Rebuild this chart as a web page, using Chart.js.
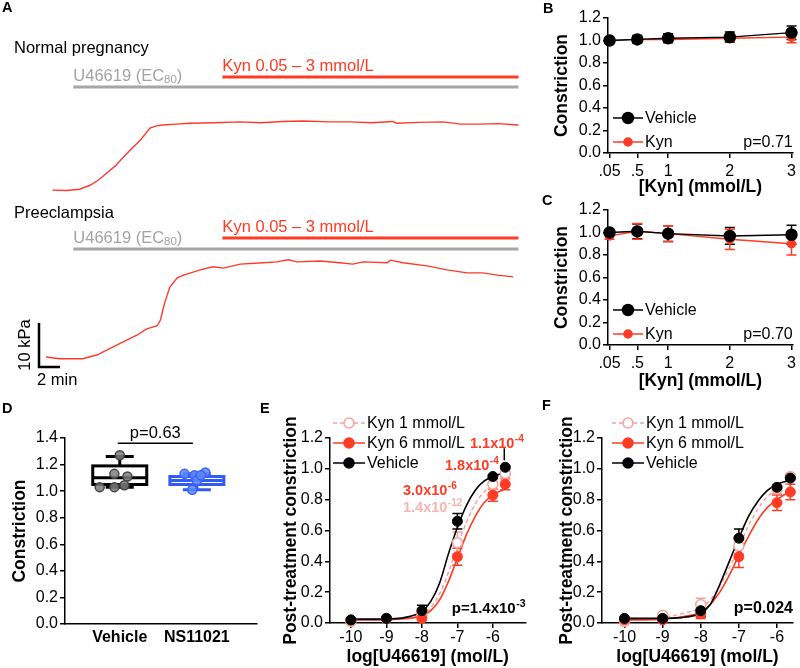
<!DOCTYPE html>
<html>
<head>
<meta charset="utf-8">
<script src="https://cdn.jsdelivr.net/npm/chart.js@4.4.1/dist/chart.umd.min.js"></script>
<style>
  body { margin: 0; background: #fff; }
  #wrap { position: relative; width: 800px; height: 668px; overflow: hidden; font-family: "Liberation Sans", Arial, sans-serif; }
  canvas { position: absolute; }
  .lbl { position: absolute; font-weight: bold; font-size: 14.5px; line-height: 14px; }
</style>
</head>
<body>
<div id="wrap">
  <canvas id="chartA" width="530" height="400" style="left:0;top:0"></canvas>
  <canvas id="chartB" width="260" height="200" style="left:540px;top:0"></canvas>
  <canvas id="chartC" width="260" height="200" style="left:540px;top:192px"></canvas>
  <canvas id="chartD" width="270" height="248" style="left:0;top:420px"></canvas>
  <canvas id="chartE" width="262" height="258" style="left:270px;top:410px"></canvas>
  <canvas id="chartF" width="268" height="258" style="left:532px;top:410px"></canvas>
  <div class="lbl" style="left:2px;top:0">A</div>
  <div class="lbl" style="left:543px;top:1px">B</div>
  <div class="lbl" style="left:542px;top:193px">C</div>
  <div class="lbl" style="left:2px;top:401px">D</div>
  <div class="lbl" style="left:260px;top:401px">E</div>
  <div class="lbl" style="left:542px;top:398px">F</div>
</div>
<script>
// ---- A: myograph traces (time in min, force in kPa above start) ----
const normalTime  = [0.6, 2, 3.2, 4.2, 5, 5.8, 6.6, 7.3, 8.1, 9, 9.9, 10.5, 11.1, 12.4, 13.7, 16, 18.5, 20.5, 22.5, 24.5, 27, 29, 31, 33, 33.4, 35.4, 37.8, 39.5, 41.3, 43, 45];
const normalForce = [0, -0.1, 0.2, 1.1, 2.3, 3.9, 5.5, 7.3, 9.3, 11.4, 14.1, 14.6, 14.8, 15.0, 15.2, 15.3, 15.5, 15.3, 15.6, 15.7, 15.5, 15.5, 15.3, 15.6, 15.2, 15.4, 15.5, 15.0, 15.0, 15.1, 14.8];
const preTime  = [0, 1.3, 3.5, 4.9, 6.4, 7.5, 8.7, 9.6, 10.3, 10.6, 10.9, 11.3, 11.8, 12.5, 13.1, 14.7, 15.9, 16.9, 18.5, 20.7, 22, 23.1, 23.9, 26.1, 28, 29.2, 30.2, 32.5, 32.8, 34, 36.3, 38.2, 40.1, 41.6, 43, 44.5];
const preForce = [0, -0.4, -0.4, 0.5, 2.3, 3.6, 5.0, 6.4, 6.9, 7.1, 8.4, 12.3, 15.9, 18.0, 18.6, 19.8, 20.5, 20.2, 21.1, 21.4, 21.6, 22.1, 21.6, 21.8, 21.4, 21.1, 21.6, 21.4, 22.0, 21.4, 20.7, 19.8, 19.1, 19.1, 18.6, 18.2];
const u46619Start = 2.6, kynStart = 16.8, traceEnd = 45;

// ---- B, C: Kyn cumulative dose ----
const kynDoses = [0.05, 0.5, 1, 2, 3];
const kynTickLabels = ['.05', '.5', '1', '2', '3'];
const normVehicle = [1.00, 1.01, 1.02, 1.03, 1.07];
const normVehicleErr = [0.01, 0.035, 0.04, 0.045, 0.06];
const normKyn = [1.00, 1.01, 1.01, 1.02, 1.03];
const normKynErr = [0.01, 0.02, 0.02, 0.03, 0.05];
const preVehicle = [1.00, 1.01, 0.99, 0.97, 0.98];
const preVehicleErr = [0.02, 0.065, 0.07, 0.075, 0.085];
const preKyn = [0.97, 1.01, 0.99, 0.94, 0.90];
const preKynErr = [0.03, 0.07, 0.07, 0.09, 0.10];
const constrictionTicks = [0, 0.2, 0.4, 0.6, 0.8, 1.0, 1.2];

// ---- D: box plot ----
const groupLabels = ['Vehicle', 'NS11021'];
const vehicleDots = [1.27, 1.13, 1.11, 1.03, 1.03, 1.045];
const ns11021Dots = [1.13, 1.12, 1.14, 1.08, 1.01, 1.12];
const vehicleBox = [1.03, 1.05, 1.10, 1.19, 1.26];   // min, q1, median, q3, max
const ns11021Box = [1.01, 1.05, 1.08, 1.11, 1.13];
const dTicks = [0, 0.2, 0.4, 0.6, 0.8, 1.0, 1.2, 1.4];

// ---- E, F: U46619 concentration response ----
const logDoses = [-10, -9, -8, -7, -6, -5.65];
const doseTicks = [-10, -9, -8, -7, -6];
const curveLog = [-10, -9.5, -9, -8.5, -8, -7.75, -7.5, -7.25, -7, -6.75, -6.5, -6.25, -6, -5.75, -5.65];

const eVehicle = [0.02, 0.03, 0.08, 0.66, 0.95, 1.01];
const eVehicleErr = [0.005, 0.005, 0.035, 0.05, 0.01, 0.01];
const eKyn1 = [0.01, 0.03, 0.06, 0.52, 0.90, 0.97];
const eKyn1Err = [0.005, 0.005, 0.02, 0.07, 0.03, 0.03];
const eKyn6 = [0.02, 0.03, 0.03, 0.43, 0.83, 0.90];
const eKyn6Err = [0.005, 0.005, 0.01, 0.055, 0.04, 0.035];
const eVehicleCurve = [0.025, 0.025, 0.027, 0.035, 0.075, 0.14, 0.26, 0.45, 0.62, 0.76, 0.86, 0.92, 0.95, 0.97, 0.975];
const eKyn1Curve = [0.02, 0.02, 0.022, 0.03, 0.055, 0.10, 0.19, 0.33, 0.50, 0.65, 0.77, 0.85, 0.90, 0.925, 0.93];
const eKyn6Curve = [0.02, 0.02, 0.022, 0.028, 0.045, 0.08, 0.15, 0.27, 0.42, 0.57, 0.69, 0.78, 0.83, 0.86, 0.87];

const fVehicle = [0.03, 0.03, 0.08, 0.55, 0.88, 0.94];
const fVehicleErr = [0.005, 0.005, 0.04, 0.06, 0.01, 0.01];
const fKyn1 = [0.01, 0.05, 0.12, 0.50, 0.87, 0.95];
const fKyn1Err = [0.005, 0.02, 0.04, 0.05, 0.03, 0.02];
const fKyn6 = [0.02, 0.02, 0.06, 0.43, 0.78, 0.85];
const fKyn6Err = [0.005, 0.005, 0.03, 0.07, 0.05, 0.05];
const fVehicleCurve = [0.03, 0.03, 0.03, 0.035, 0.065, 0.12, 0.25, 0.40, 0.55, 0.69, 0.79, 0.86, 0.90, 0.92, 0.925];
const fKyn1Curve = [0.02, 0.025, 0.035, 0.06, 0.10, 0.15, 0.24, 0.36, 0.49, 0.63, 0.74, 0.82, 0.87, 0.90, 0.91];
const fKyn6Curve = [0.02, 0.02, 0.025, 0.04, 0.07, 0.12, 0.20, 0.31, 0.44, 0.56, 0.67, 0.75, 0.80, 0.84, 0.85];

const FONT = '"Liberation Sans", Arial, sans-serif';
const RED = '#ff3b24';
const PINK = '#f4a3a0';
const GREY = '#a6a6a6';
const BLUE = '#2f5cf4';

Chart.defaults.font.family = FONT;
Chart.defaults.color = '#000';

const xy = (xs, ys) => xs.map((x, i) => ({ x: x, y: ys[i] }));

function scale(o) {
  return {
    type: 'linear', min: o.min, max: o.max,
    afterBuildTicks: s => { s.ticks = o.ticks.map(v => ({ value: v })); },
    afterFit: s => { if (s.isHorizontal()) s.height = o.size; else s.width = o.size; },
    ticks: { color: '#000', font: { size: 16, weight: o.boldTicks ? 'bold' : 'normal' }, padding: o.pad, maxRotation: 0, autoSkip: false, callback: o.fmt },
    grid: { drawOnChartArea: false, drawTicks: o.drawTicks !== false, tickLength: 5, color: '#000', lineWidth: 1.5 },
    border: { color: '#000', width: 1.5 },
    title: { display: true, text: o.title, color: '#000', font: { size: 17.5, weight: 'bold' }, padding: o.titlePad }
  };
}

const baseOpts = {
  responsive: false, animation: false, devicePixelRatio: 1,
  plugins: { legend: { display: false }, tooltip: { enabled: false } }
};

const errorBars = {
  id: 'errorBars',
  beforeDatasetsDraw(chart) {
    const ctx = chart.ctx;
    chart.data.datasets.forEach((ds, i) => {
      if (!ds.errors) return;
      const meta = chart.getDatasetMeta(i);
      const ys = chart.scales[meta.yAxisID];
      ctx.save();
      ctx.strokeStyle = ds.borderColor;
      ctx.lineWidth = 1.5;
      meta.data.forEach((pt, j) => {
        const v = ds.data[j].y, e = ds.errors[j];
        const t = ys.getPixelForValue(v + e), b = ys.getPixelForValue(v - e);
        ctx.beginPath();
        ctx.moveTo(pt.x, t); ctx.lineTo(pt.x, b);
        ctx.moveTo(pt.x - 5, t); ctx.lineTo(pt.x + 5, t);
        ctx.moveTo(pt.x - 5, b); ctx.lineTo(pt.x + 5, b);
        ctx.stroke();
      });
      ctx.restore();
    });
  }
};

function drawLegend(ctx, items, x0, y0, step, len) {
  items.forEach((it, i) => {
    const y = y0 + i * step;
    ctx.save();
    ctx.strokeStyle = it.color; ctx.lineWidth = 1.5;
    ctx.setLineDash(it.dash || []);
    ctx.beginPath(); ctx.moveTo(x0, y); ctx.lineTo(x0 + len, y); ctx.stroke();
    ctx.setLineDash([]);
    ctx.beginPath(); ctx.arc(x0 + len / 2, y, it.r, 0, Math.PI * 2);
    ctx.fillStyle = it.fill; ctx.fill(); ctx.stroke();
    ctx.fillStyle = '#000'; ctx.font = '16px ' + FONT;
    ctx.textBaseline = 'middle'; ctx.textAlign = 'left';
    ctx.fillText(it.label, x0 + len + 2, y + 1);
    ctx.restore();
  });
}

function supText(ctx, x, y, base, sup, size, color, align) {
  ctx.save();
  ctx.font = 'bold ' + size + 'px ' + FONT;
  const w1 = ctx.measureText(base).width;
  const small = 'bold ' + (size * 0.7) + 'px ' + FONT;
  ctx.font = small;
  const w2 = ctx.measureText(sup).width;
  const x0 = align === 'right' ? x - w1 - w2 - 0.5 : x;
  ctx.fillStyle = color; ctx.textAlign = 'left'; ctx.textBaseline = 'alphabetic';
  ctx.font = 'bold ' + size + 'px ' + FONT;
  ctx.fillText(base, x0, y);
  ctx.font = small;
  ctx.fillText(sup, x0 + w1 + 0.5, y - size * 0.42);
  ctx.restore();
}

// ---------- A ----------
const panelA = {
  id: 'panelA',
  afterDraw(chart) {
    const { ctx, scales: { x, y2 } } = chart;
    const xu = x.getPixelForValue(u46619Start), xk = x.getPixelForValue(kynStart), xe = x.getPixelForValue(traceEnd);
    const rows = [
      { name: 'Normal pregnancy', ny: 53, gy: 87, ry: 77 },
      { name: 'Preeclampsia', ny: 218, gy: 249, ry: 238 }
    ];
    ctx.save();
    rows.forEach(r => {
      ctx.lineWidth = 3;
      ctx.strokeStyle = GREY;
      ctx.beginPath(); ctx.moveTo(xu, r.gy); ctx.lineTo(xe, r.gy); ctx.stroke();
      ctx.strokeStyle = RED;
      ctx.beginPath(); ctx.moveTo(xk, r.ry); ctx.lineTo(xe, r.ry); ctx.stroke();
      ctx.textBaseline = 'alphabetic'; ctx.textAlign = 'left';
      ctx.font = '16.5px ' + FONT;
      ctx.fillStyle = '#000';
      ctx.fillText(r.name, 14, r.ny);
      ctx.fillStyle = '#a3a3a3';
      let tx = xu;
      ctx.fillText('U46619 (EC', tx, r.gy - 6.5);
      tx += ctx.measureText('U46619 (EC').width;
      ctx.font = '11.5px ' + FONT;
      ctx.fillText('80', tx, r.gy - 4);
      tx += ctx.measureText('80').width;
      ctx.font = '16.5px ' + FONT;
      ctx.fillText(')', tx, r.gy - 6.5);
      ctx.fillStyle = RED;
      ctx.fillText('Kyn 0.05 \u2013 3 mmol/L', xk, r.ry - 6);
    });
    // scale bar: 10 kPa by 2 min
    const ox = 39, oy = 367;
    const h = y2.getPixelForValue(0) - y2.getPixelForValue(10);
    const w = x.getPixelForValue(2) - x.getPixelForValue(0);
    ctx.strokeStyle = '#000'; ctx.lineWidth = 2.5;
    ctx.beginPath(); ctx.moveTo(ox, oy - h); ctx.lineTo(ox, oy); ctx.lineTo(ox + w, oy); ctx.stroke();
    ctx.fillStyle = '#000'; ctx.font = '16.5px ' + FONT;
    ctx.fillText('2 min', 37, 385);
    ctx.translate(30, oy - h / 2);
    ctx.rotate(-Math.PI / 2);
    ctx.textAlign = 'center';
    ctx.fillText('10 kPa', 0, 0);
    ctx.restore();
  }
};

new Chart(document.getElementById('chartA'), {
  type: 'line',
  data: {
    datasets: [
      { data: xy(normalTime, normalForce), yAxisID: 'y1', borderColor: '#ff3a2a', borderWidth: 1.4, pointRadius: 0 },
      { data: xy(preTime, preForce), yAxisID: 'y2', borderColor: '#ff3a2a', borderWidth: 1.4, pointRadius: 0 }
    ]
  },
  options: {
    ...baseOpts,
    layout: { padding: 0 },
    scales: {
      x: { type: 'linear', display: false, min: -4.38, max: 46.1 },
      y1: { type: 'linear', display: false, min: -47.7, max: 43.2 },
      y2: { type: 'linear', display: false, min: -9.77, max: 81.1 }
    }
  },
  plugins: [panelA]
});

// ---------- B, C ----------
function kynChart(id, veh, vehErr, kyn, kynErr, pText, titlePadB) {
  const legend = {
    id: 'kynLegend',
    afterDraw(chart) {
      const { ctx, chartArea: a } = chart;
      drawLegend(ctx, [
        { label: 'Vehicle', color: '#000', fill: '#000', r: 5.5 },
        { label: 'Kyn', color: RED, fill: RED, r: 4 }
      ], a.left + 5, a.top + 100, 24, 30);
      ctx.save();
      ctx.font = '16px ' + FONT; ctx.textAlign = 'right'; ctx.textBaseline = 'middle';
      ctx.fillText(pText, a.right, a.top + 125);
      ctx.restore();
    }
  };
  new Chart(document.getElementById(id), {
    type: 'line',
    data: {
      datasets: [
        { label: 'Vehicle', data: xy(kynDoses, veh), errors: vehErr, borderColor: '#000', backgroundColor: '#000', borderWidth: 1.5, pointRadius: 5.5, pointBackgroundColor: '#000', clip: false },
        { label: 'Kyn', data: xy(kynDoses, kyn), errors: kynErr, borderColor: RED, backgroundColor: RED, borderWidth: 1.5, pointRadius: 4, pointBackgroundColor: RED, clip: false }
      ]
    },
    options: {
      ...baseOpts,
      layout: { padding: { left: 0, right: 5, top: 18, bottom: 0 } },
      scales: {
        x: scale({ min: 0.025, max: 3.02, ticks: kynDoses, size: 47, pad: 4, fmt: (v, i) => kynTickLabels[i], title: '[Kyn] (mmol/L)', titlePad: { top: 0, bottom: titlePadB } }),
        y: scale({ min: 0, max: 1.2, ticks: constrictionTicks, size: 68, pad: 2, fmt: v => v.toFixed(1), title: 'Constriction', titlePad: { top: 11.5, bottom: 0 } })
      }
    },
    plugins: [errorBars, legend]
  });
}
kynChart('chartB', normVehicle, normVehicleErr, normKyn, normKynErr, 'p=0.71', 2.5);
kynChart('chartC', preVehicle, preVehicleErr, preKyn, preKynErr, 'p=0.70', 0);

// ---------- D ----------
const dotJitterVeh = [0, -0.07, 0.1, -0.26, -0.07, 0.06];
const dotJitterNs = [-0.16, -0.03, 0.11, 0, -0.06, 0.05];
const boxPlot = {
  id: 'boxPlot',
  beforeDatasetsDraw(chart) {
    const { ctx, scales: { x, y } } = chart;
    [[vehicleBox, '#000'], [ns11021Box, BLUE]].forEach(([b, col], i) => {
      const cx = x.getPixelForValue(i), hw = 27, cw = 14;
      const [mn, q1, md, q3, mx] = b.map(v => y.getPixelForValue(v));
      ctx.save();
      ctx.strokeStyle = col; ctx.lineWidth = 3;
      ctx.beginPath();
      ctx.moveTo(cx, q3); ctx.lineTo(cx, mx); ctx.moveTo(cx - cw, mx); ctx.lineTo(cx + cw, mx);
      ctx.moveTo(cx, q1); ctx.lineTo(cx, mn); ctx.moveTo(cx - cw, mn); ctx.lineTo(cx + cw, mn);
      ctx.stroke();
      ctx.fillStyle = '#fff';
      ctx.fillRect(cx - hw, q3, hw * 2, q1 - q3);
      ctx.strokeRect(cx - hw, q3, hw * 2, q1 - q3);
      ctx.beginPath(); ctx.moveTo(cx - hw, md); ctx.lineTo(cx + hw, md); ctx.stroke();
      ctx.restore();
    });
    // significance bracket
    const ly = y.getPixelForValue(1.36);
    const x0 = x.getPixelForValue(0) - 2, x1 = x.getPixelForValue(1) - 4;
    ctx.save();
    ctx.strokeStyle = '#000'; ctx.lineWidth = 1.5;
    ctx.beginPath(); ctx.moveTo(x0, ly); ctx.lineTo(x1, ly); ctx.stroke();
    ctx.font = '16.5px ' + FONT; ctx.textAlign = 'center'; ctx.textBaseline = 'alphabetic';
    ctx.fillStyle = '#000';
    ctx.fillText('p=0.63', (x0 + x1) / 2, ly - 5);
    ctx.restore();
  }
};

new Chart(document.getElementById('chartD'), {
  type: 'scatter',
  data: {
    datasets: [
      { data: vehicleDots.map((v, i) => ({ x: 0 + dotJitterVeh[i], y: v })), pointRadius: 4.5, pointBackgroundColor: 'rgba(125,125,125,0.85)', pointBorderColor: '#444', pointBorderWidth: 1.5, clip: false },
      { data: ns11021Dots.map((v, i) => ({ x: 1 + dotJitterNs[i], y: v })), pointRadius: 4.5, pointBackgroundColor: 'rgba(95,135,255,0.85)', pointBorderColor: '#3a64f6', pointBorderWidth: 1.5, clip: false }
    ]
  },
  options: {
    ...baseOpts,
    layout: { padding: { left: 0, right: 13, top: 18, bottom: 0 } },
    scales: {
      x: scale({ min: -0.71, max: 1.78, ticks: [0, 1], size: 44, pad: 4, drawTicks: false, boldTicks: true, fmt: (v, i) => groupLabels[i], title: '', titlePad: 0 }),
      y: scale({ min: 0, max: 1.4, ticks: dTicks, size: 65, pad: 2, fmt: v => v.toFixed(1), title: 'Constriction', titlePad: { top: 9.5, bottom: 0 } })
    }
  },
  plugins: [boxPlot]
});

// ---------- E, F ----------
function crcChart(id, pts, curves, yOffset, padR, titleTop, notes) {
  const [veh, vehErr, k1, k1Err, k6, k6Err] = pts;
  const [vc, k1c, k6c] = curves;
  const deco = {
    id: 'crcDeco',
    afterDraw(chart) {
      const { ctx, chartArea: a } = chart;
      drawLegend(ctx, [
        { label: 'Kyn 1 mmol/L', color: PINK, fill: '#fff', r: 5, dash: [4, 3] },
        { label: 'Kyn 6 mmol/L', color: RED, fill: RED, r: 5 },
        { label: 'Vehicle', color: '#000', fill: '#000', r: 5 }
      ], a.left + yOffset, 13, 20, 32);
      notes(chart);
    }
  };
  new Chart(document.getElementById(id), {
    type: 'line',
    data: {
      datasets: [
        { data: xy(logDoses, veh), errors: vehErr, borderColor: '#000', showLine: false, pointRadius: 5, pointBackgroundColor: '#000', clip: false },
        { data: xy(logDoses, k6), errors: k6Err, borderColor: RED, showLine: false, pointRadius: 5, pointBackgroundColor: RED, pointBorderColor: RED, clip: false },
        { data: xy(logDoses, k1), errors: k1Err, borderColor: PINK, showLine: false, pointRadius: 5, pointBackgroundColor: '#fff', pointBorderColor: PINK, pointBorderWidth: 1.5, clip: false },
        { data: xy(curveLog, vc), borderColor: '#000', borderWidth: 1.6, pointRadius: 0, cubicInterpolationMode: 'monotone' },
        { data: xy(curveLog, k6c), borderColor: RED, borderWidth: 1.6, pointRadius: 0, cubicInterpolationMode: 'monotone' },
        { data: xy(curveLog, k1c), borderColor: PINK, borderWidth: 1.5, borderDash: [4, 3], pointRadius: 0, cubicInterpolationMode: 'monotone' }
      ]
    },
    options: {
      ...baseOpts,
      layout: { padding: { left: 0, right: padR, top: 28, bottom: 0 } },
      scales: {
        x: scale({ min: -10.59, max: id === 'chartE' ? -5.08 : -5.58, ticks: doseTicks, size: 45, pad: 0, fmt: v => String(v), title: 'log[U46619] (mol/L)', titlePad: { top: 0, bottom: 0.5 } }),
        y: scale({ min: 0, max: 1.2, ticks: constrictionTicks, size: id === 'chartE' ? 60 : 70, pad: 2, fmt: v => v.toFixed(1), title: 'Post-treatment constriction', titlePad: { top: titleTop, bottom: 0 } })
      }
    },
    plugins: [errorBars, deco]
  });
}

crcChart('chartE', [eVehicle, eVehicleErr, eKyn1, eKyn1Err, eKyn6, eKyn6Err], [eVehicleCurve, eKyn1Curve, eKyn6Curve], 3, 5, 10.5, chart => {
  const { ctx, chartArea: a, scales: { x, y } } = chart;
  const lx = x.getPixelForValue(logDoses[5]) - 1, ly = y.getPixelForValue(eVehicle[5]);
  ctx.save();
  ctx.strokeStyle = '#000'; ctx.lineWidth = 1.5;
  ctx.beginPath(); ctx.moveTo(lx, ly - 7); ctx.lineTo(lx, ly - 19); ctx.stroke();
  ctx.restore();
  supText(ctx, 200, 38, '1.1x10', '-4', 14.5, RED);
  supText(ctx, 175, 60, '1.8x10', '-4', 14.5, RED);
  supText(ctx, 133, 85, '3.0x10', '-6', 14.5, RED);
  supText(ctx, 133, 102, '1.4x10', '-12', 14.5, '#f7b4b0');
  supText(ctx, a.right, 203, 'p=1.4x10', '-3', 15, '#000', 'right');
});

crcChart('chartF', [fVehicle, fVehicleErr, fKyn1, fKyn1Err, fKyn6, fKyn6Err], [fVehicleCurve, fKyn1Curve, fKyn6Curve], 10, 7, 24.5, chart => {
  const { ctx, chartArea: a } = chart;
  ctx.save();
  ctx.font = 'bold 16px ' + FONT; ctx.textAlign = 'right'; ctx.textBaseline = 'alphabetic';
  ctx.fillStyle = '#000';
  ctx.fillText('p=0.024', a.right, 203);
  ctx.restore();
});
</script>
</body>
</html>
